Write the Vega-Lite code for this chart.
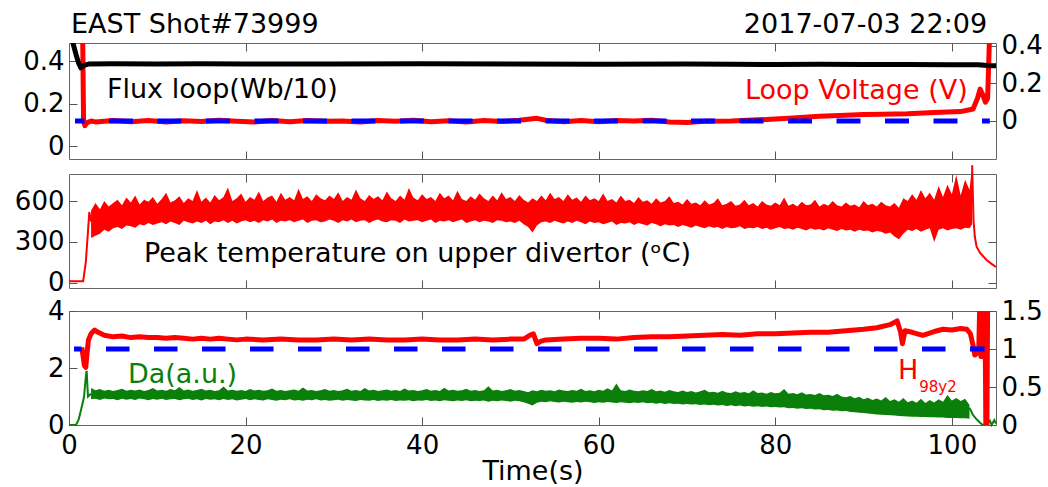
{
"$schema": "https://vega.github.io/schema/vega-lite/v6.json",
"padding": {"left": 13, "top": 10, "right": 5, "bottom": 5},
"datasets": {
"flux": [{"t":0.1,"v":0.53},{"t":0.45,"v":0.485},{"t":0.8,"v":0.43},{"t":1.1,"v":0.39},{"t":1.35,"v":0.368},{"t":1.7,"v":0.38},{"t":2.2,"v":0.386},{"t":5,"v":0.387},{"t":10,"v":0.386},{"t":15,"v":0.387},{"t":20,"v":0.386},{"t":30,"v":0.386},{"t":40,"v":0.387},{"t":50,"v":0.386},{"t":60,"v":0.385},{"t":70,"v":0.386},{"t":75,"v":0.385},{"t":80,"v":0.384},{"t":85,"v":0.385},{"t":90,"v":0.384},{"t":95,"v":0.384},{"t":100,"v":0.383},{"t":103,"v":0.383},{"t":104.3,"v":0.378},{"t":105,"v":0.378}],
"volt": [{"t":1.3,"v":0.5},{"t":1.55,"v":0.45},{"t":1.65,"v":0.0},{"t":1.8,"v":-0.025},{"t":2.0,"v":-0.01},{"t":2.5,"v":0.0},{"t":3,"v":-0.005},{"t":5,"v":0.003},{"t":7,"v":-0.004},{"t":9,"v":0.002},{"t":11,"v":-0.006},{"t":13,"v":0.001},{"t":15,"v":-0.003},{"t":17,"v":0.004},{"t":19,"v":-0.002},{"t":21,"v":-0.006},{"t":23,"v":0.002},{"t":25,"v":-0.004},{"t":27,"v":0.003},{"t":29,"v":-0.002},{"t":31,"v":0.0},{"t":33,"v":-0.005},{"t":35,"v":0.003},{"t":37,"v":-0.001},{"t":39,"v":0.004},{"t":41,"v":-0.004},{"t":43,"v":0.001},{"t":45,"v":-0.006},{"t":47,"v":0.002},{"t":49,"v":-0.003},{"t":51,"v":0.004},{"t":53,"v":0.014},{"t":54,"v":0.004},{"t":56,"v":-0.004},{"t":58,"v":0.002},{"t":60,"v":-0.004},{"t":62,"v":0.003},{"t":64,"v":0.0},{"t":66,"v":0.004},{"t":68,"v":-0.005},{"t":70,"v":-0.008},{"t":72,"v":-0.002},{"t":75,"v":0.0},{"t":78,"v":0.006},{"t":80,"v":0.01},{"t":82,"v":0.016},{"t":85,"v":0.025},{"t":88,"v":0.03},{"t":90,"v":0.035},{"t":92,"v":0.036},{"t":95,"v":0.038},{"t":98,"v":0.045},{"t":101,"v":0.05},{"t":102.4,"v":0.064},{"t":102.9,"v":0.12},{"t":103.2,"v":0.17},{"t":103.5,"v":0.14},{"t":103.8,"v":0.1},{"t":104.05,"v":0.12},{"t":104.3,"v":0.5}],
"tband": [{"t":2.5,"lo":330,"hi":530},{"t":3.0,"lo":345,"hi":585},{"t":3.5,"lo":360,"hi":540},{"t":4.0,"lo":390,"hi":600},{"t":4.5,"lo":375,"hi":560},{"t":5.0,"lo":400,"hi":585},{"t":5.5,"lo":410,"hi":610},{"t":6.0,"lo":395,"hi":570},{"t":6.5,"lo":420,"hi":625},{"t":7.0,"lo":415,"hi":590},{"t":7.5,"lo":405,"hi":640},{"t":8.0,"lo":430,"hi":575},{"t":8.5,"lo":420,"hi":610},{"t":9.0,"lo":440,"hi":595},{"t":9.5,"lo":425,"hi":630},{"t":10.0,"lo":435,"hi":580},{"t":10.5,"lo":445,"hi":615},{"t":11.0,"lo":430,"hi":660},{"t":11.5,"lo":450,"hi":590},{"t":12.0,"lo":440,"hi":605},{"t":12.5,"lo":425,"hi":635},{"t":13.0,"lo":455,"hi":585},{"t":13.5,"lo":445,"hi":620},{"t":14.0,"lo":435,"hi":600},{"t":14.5,"lo":450,"hi":680},{"t":15.0,"lo":440,"hi":595},{"t":15.5,"lo":455,"hi":625},{"t":16.0,"lo":430,"hi":590},{"t":16.5,"lo":450,"hi":645},{"t":17.0,"lo":445,"hi":605},{"t":17.5,"lo":460,"hi":630},{"t":18.0,"lo":440,"hi":700},{"t":18.5,"lo":455,"hi":600},{"t":19.0,"lo":435,"hi":620},{"t":19.5,"lo":450,"hi":655},{"t":20.0,"lo":460,"hi":595},{"t":20.5,"lo":445,"hi":630},{"t":21.0,"lo":455,"hi":610},{"t":21.5,"lo":440,"hi":670},{"t":22.0,"lo":460,"hi":600},{"t":22.5,"lo":450,"hi":625},{"t":23.0,"lo":465,"hi":640},{"t":23.5,"lo":440,"hi":595},{"t":24.0,"lo":455,"hi":660},{"t":24.5,"lo":450,"hi":610},{"t":25.0,"lo":460,"hi":630},{"t":25.5,"lo":445,"hi":605},{"t":26.0,"lo":455,"hi":690},{"t":26.5,"lo":465,"hi":615},{"t":27.0,"lo":440,"hi":635},{"t":27.5,"lo":455,"hi":600},{"t":28.0,"lo":460,"hi":650},{"t":28.5,"lo":445,"hi":620},{"t":29.0,"lo":450,"hi":605},{"t":29.5,"lo":465,"hi":640},{"t":30.0,"lo":455,"hi":615},{"t":30.5,"lo":440,"hi":665},{"t":31.0,"lo":460,"hi":600},{"t":31.5,"lo":450,"hi":630},{"t":32.0,"lo":465,"hi":610},{"t":32.5,"lo":445,"hi":685},{"t":33.0,"lo":455,"hi":620},{"t":33.5,"lo":460,"hi":600},{"t":34.0,"lo":440,"hi":645},{"t":34.5,"lo":455,"hi":615},{"t":35.0,"lo":465,"hi":635},{"t":35.5,"lo":450,"hi":605},{"t":36.0,"lo":445,"hi":670},{"t":36.5,"lo":460,"hi":620},{"t":37.0,"lo":455,"hi":600},{"t":37.5,"lo":440,"hi":640},{"t":38.0,"lo":465,"hi":610},{"t":38.5,"lo":450,"hi":695},{"t":39.0,"lo":455,"hi":625},{"t":39.5,"lo":460,"hi":605},{"t":40.0,"lo":445,"hi":650},{"t":40.5,"lo":455,"hi":615},{"t":41.0,"lo":465,"hi":630},{"t":41.5,"lo":440,"hi":600},{"t":42.0,"lo":455,"hi":660},{"t":42.5,"lo":450,"hi":620},{"t":43.0,"lo":460,"hi":640},{"t":43.5,"lo":445,"hi":605},{"t":44.0,"lo":455,"hi":675},{"t":44.5,"lo":465,"hi":615},{"t":45.0,"lo":440,"hi":600},{"t":45.5,"lo":450,"hi":635},{"t":46.0,"lo":460,"hi":610},{"t":46.5,"lo":445,"hi":655},{"t":47.0,"lo":455,"hi":620},{"t":47.5,"lo":450,"hi":600},{"t":48.0,"lo":440,"hi":640},{"t":48.5,"lo":460,"hi":605},{"t":49.0,"lo":455,"hi":665},{"t":49.5,"lo":445,"hi":615},{"t":50.0,"lo":450,"hi":630},{"t":50.5,"lo":440,"hi":600},{"t":51.0,"lo":455,"hi":645},{"t":51.5,"lo":430,"hi":610},{"t":52.0,"lo":410,"hi":590},{"t":52.5,"lo":370,"hi":620},{"t":53.0,"lo":420,"hi":600},{"t":53.5,"lo":445,"hi":640},{"t":54.0,"lo":450,"hi":605},{"t":54.5,"lo":440,"hi":660},{"t":55.0,"lo":455,"hi":615},{"t":55.5,"lo":445,"hi":630},{"t":56.0,"lo":435,"hi":600},{"t":56.5,"lo":450,"hi":650},{"t":57.0,"lo":440,"hi":610},{"t":57.5,"lo":455,"hi":625},{"t":58.0,"lo":445,"hi":595},{"t":58.5,"lo":430,"hi":640},{"t":59.0,"lo":450,"hi":605},{"t":59.5,"lo":440,"hi":620},{"t":60.0,"lo":445,"hi":600},{"t":60.5,"lo":430,"hi":655},{"t":61.0,"lo":440,"hi":600},{"t":61.5,"lo":450,"hi":615},{"t":62.0,"lo":425,"hi":590},{"t":62.5,"lo":440,"hi":640},{"t":63.0,"lo":435,"hi":600},{"t":63.5,"lo":445,"hi":610},{"t":64.0,"lo":425,"hi":585},{"t":64.5,"lo":440,"hi":630},{"t":65.0,"lo":430,"hi":595},{"t":65.5,"lo":420,"hi":605},{"t":66.0,"lo":440,"hi":580},{"t":66.5,"lo":430,"hi":620},{"t":67.0,"lo":415,"hi":590},{"t":67.5,"lo":430,"hi":600},{"t":68.0,"lo":420,"hi":635},{"t":68.5,"lo":425,"hi":585},{"t":69.0,"lo":410,"hi":595},{"t":69.5,"lo":425,"hi":575},{"t":70.0,"lo":415,"hi":615},{"t":70.5,"lo":405,"hi":580},{"t":71.0,"lo":420,"hi":590},{"t":71.5,"lo":410,"hi":570},{"t":72.0,"lo":400,"hi":605},{"t":72.5,"lo":415,"hi":575},{"t":73.0,"lo":405,"hi":585},{"t":73.5,"lo":410,"hi":620},{"t":74.0,"lo":395,"hi":570},{"t":74.5,"lo":410,"hi":580},{"t":75.0,"lo":400,"hi":600},{"t":75.5,"lo":405,"hi":565},{"t":76.0,"lo":415,"hi":575},{"t":76.5,"lo":395,"hi":610},{"t":77.0,"lo":405,"hi":570},{"t":77.5,"lo":400,"hi":585},{"t":78.0,"lo":410,"hi":560},{"t":78.5,"lo":395,"hi":600},{"t":79.0,"lo":405,"hi":575},{"t":79.5,"lo":390,"hi":565},{"t":80.0,"lo":400,"hi":590},{"t":80.5,"lo":410,"hi":570},{"t":81.0,"lo":395,"hi":625},{"t":81.5,"lo":400,"hi":565},{"t":82.0,"lo":390,"hi":580},{"t":82.5,"lo":405,"hi":560},{"t":83.0,"lo":395,"hi":595},{"t":83.5,"lo":385,"hi":570},{"t":84.0,"lo":400,"hi":575},{"t":84.5,"lo":390,"hi":610},{"t":85.0,"lo":395,"hi":560},{"t":85.5,"lo":385,"hi":580},{"t":86.0,"lo":400,"hi":565},{"t":86.5,"lo":390,"hi":600},{"t":87.0,"lo":380,"hi":570},{"t":87.5,"lo":395,"hi":560},{"t":88.0,"lo":385,"hi":590},{"t":88.5,"lo":390,"hi":565},{"t":89.0,"lo":375,"hi":575},{"t":89.5,"lo":390,"hi":555},{"t":90.0,"lo":380,"hi":600},{"t":90.5,"lo":385,"hi":570},{"t":91.0,"lo":370,"hi":580},{"t":91.5,"lo":380,"hi":560},{"t":92.0,"lo":375,"hi":595},{"t":92.5,"lo":360,"hi":570},{"t":93.0,"lo":370,"hi":560},{"t":93.5,"lo":340,"hi":585},{"t":94.0,"lo":320,"hi":550},{"t":94.5,"lo":360,"hi":620},{"t":95.0,"lo":390,"hi":600},{"t":95.5,"lo":380,"hi":650},{"t":96.0,"lo":395,"hi":610},{"t":96.5,"lo":375,"hi":680},{"t":97.0,"lo":390,"hi":620},{"t":97.5,"lo":400,"hi":660},{"t":98.0,"lo":300,"hi":610},{"t":98.5,"lo":390,"hi":710},{"t":99.0,"lo":400,"hi":630},{"t":99.5,"lo":385,"hi":720},{"t":100.0,"lo":395,"hi":650},{"t":100.5,"lo":400,"hi":790},{"t":101.0,"lo":390,"hi":640},{"t":101.5,"lo":405,"hi":755},{"t":102.0,"lo":400,"hi":680},{"t":102.3,"lo":430,"hi":862}],
"tline": [{"s":"a","t":0,"v":12},{"s":"a","t":1.6,"v":12},{"s":"a","t":1.9,"v":150},{"s":"a","t":2.1,"v":330},{"s":"a","t":2.3,"v":520},{"s":"a","t":2.5,"v":450},{"s":"b","t":102.3,"v":862},{"s":"b","t":102.45,"v":465},{"s":"b","t":102.6,"v":340},{"s":"b","t":102.8,"v":265},{"s":"b","t":103.2,"v":220},{"s":"b","t":103.9,"v":170},{"s":"b","t":104.5,"v":140},{"s":"b","t":105,"v":117}],
"daband": [{"t":2.5,"lo":0.9,"hi":1.3},{"t":3.0,"lo":0.92,"hi":1.22},{"t":3.5,"lo":0.88,"hi":1.26},{"t":4.0,"lo":0.93,"hi":1.2},{"t":4.5,"lo":0.9,"hi":1.24},{"t":5.0,"lo":0.91,"hi":1.19},{"t":5.5,"lo":0.87,"hi":1.23},{"t":6.0,"lo":0.92,"hi":1.27},{"t":6.5,"lo":0.89,"hi":1.2},{"t":7.0,"lo":0.91,"hi":1.24},{"t":7.5,"lo":0.88,"hi":1.21},{"t":8.0,"lo":0.93,"hi":1.25},{"t":8.5,"lo":0.9,"hi":1.19},{"t":9.0,"lo":0.87,"hi":1.23},{"t":9.5,"lo":0.91,"hi":1.3},{"t":10.0,"lo":0.89,"hi":1.21},{"t":10.5,"lo":0.92,"hi":1.24},{"t":11.0,"lo":0.88,"hi":1.2},{"t":11.5,"lo":0.9,"hi":1.26},{"t":12.0,"lo":0.91,"hi":1.22},{"t":12.5,"lo":0.87,"hi":1.33},{"t":13.0,"lo":0.9,"hi":1.21},{"t":13.5,"lo":0.92,"hi":1.25},{"t":14.0,"lo":0.88,"hi":1.2},{"t":14.5,"lo":0.9,"hi":1.23},{"t":15.0,"lo":0.86,"hi":1.27},{"t":15.5,"lo":0.91,"hi":1.21},{"t":16.0,"lo":0.89,"hi":1.24},{"t":16.5,"lo":0.9,"hi":1.19},{"t":17.0,"lo":0.87,"hi":1.22},{"t":17.5,"lo":0.91,"hi":1.35},{"t":18.0,"lo":0.88,"hi":1.21},{"t":18.5,"lo":0.9,"hi":1.24},{"t":19.0,"lo":0.86,"hi":1.2},{"t":19.5,"lo":0.89,"hi":1.23},{"t":20.0,"lo":0.91,"hi":1.19},{"t":20.5,"lo":0.87,"hi":1.26},{"t":21.0,"lo":0.9,"hi":1.21},{"t":21.5,"lo":0.88,"hi":1.24},{"t":22.0,"lo":0.86,"hi":1.2},{"t":22.5,"lo":0.9,"hi":1.22},{"t":23.0,"lo":0.88,"hi":1.28},{"t":23.5,"lo":0.85,"hi":1.2},{"t":24.0,"lo":0.89,"hi":1.23},{"t":24.5,"lo":0.87,"hi":1.19},{"t":25.0,"lo":0.9,"hi":1.22},{"t":25.5,"lo":0.86,"hi":1.25},{"t":26.0,"lo":0.88,"hi":1.2},{"t":26.5,"lo":0.85,"hi":1.32},{"t":27.0,"lo":0.89,"hi":1.21},{"t":27.5,"lo":0.87,"hi":1.23},{"t":28.0,"lo":0.9,"hi":1.19},{"t":28.5,"lo":0.86,"hi":1.22},{"t":29.0,"lo":0.88,"hi":1.26},{"t":29.5,"lo":0.85,"hi":1.2},{"t":30.0,"lo":0.87,"hi":1.23},{"t":30.5,"lo":0.89,"hi":1.19},{"t":31.0,"lo":0.85,"hi":1.22},{"t":31.5,"lo":0.88,"hi":1.27},{"t":32.0,"lo":0.86,"hi":1.2},{"t":32.5,"lo":0.84,"hi":1.23},{"t":33.0,"lo":0.88,"hi":1.19},{"t":33.5,"lo":0.86,"hi":1.3},{"t":34.0,"lo":0.85,"hi":1.21},{"t":34.5,"lo":0.88,"hi":1.24},{"t":35.0,"lo":0.84,"hi":1.19},{"t":35.5,"lo":0.87,"hi":1.22},{"t":36.0,"lo":0.85,"hi":1.25},{"t":36.5,"lo":0.88,"hi":1.2},{"t":37.0,"lo":0.84,"hi":1.23},{"t":37.5,"lo":0.86,"hi":1.19},{"t":38.0,"lo":0.85,"hi":1.28},{"t":38.5,"lo":0.87,"hi":1.21},{"t":39.0,"lo":0.83,"hi":1.23},{"t":39.5,"lo":0.86,"hi":1.19},{"t":40.0,"lo":0.85,"hi":1.22},{"t":40.5,"lo":0.88,"hi":1.26},{"t":41.0,"lo":0.84,"hi":1.2},{"t":41.5,"lo":0.86,"hi":1.23},{"t":42.0,"lo":0.83,"hi":1.19},{"t":42.5,"lo":0.87,"hi":1.31},{"t":43.0,"lo":0.85,"hi":1.21},{"t":43.5,"lo":0.83,"hi":1.24},{"t":44.0,"lo":0.86,"hi":1.2},{"t":44.5,"lo":0.84,"hi":1.22},{"t":45.0,"lo":0.87,"hi":1.27},{"t":45.5,"lo":0.83,"hi":1.2},{"t":46.0,"lo":0.85,"hi":1.23},{"t":46.5,"lo":0.84,"hi":1.19},{"t":47.0,"lo":0.86,"hi":1.22},{"t":47.5,"lo":0.82,"hi":1.36},{"t":48.0,"lo":0.85,"hi":1.21},{"t":48.5,"lo":0.83,"hi":1.24},{"t":49.0,"lo":0.86,"hi":1.19},{"t":49.5,"lo":0.84,"hi":1.22},{"t":50.0,"lo":0.82,"hi":1.26},{"t":50.5,"lo":0.85,"hi":1.2},{"t":51.0,"lo":0.83,"hi":1.23},{"t":51.5,"lo":0.8,"hi":1.19},{"t":52.0,"lo":0.75,"hi":1.15},{"t":52.5,"lo":0.68,"hi":1.22},{"t":53.0,"lo":0.78,"hi":1.18},{"t":53.5,"lo":0.82,"hi":1.24},{"t":54.0,"lo":0.8,"hi":1.2},{"t":54.5,"lo":0.83,"hi":1.22},{"t":55.0,"lo":0.81,"hi":1.18},{"t":55.5,"lo":0.79,"hi":1.25},{"t":56.0,"lo":0.82,"hi":1.21},{"t":56.5,"lo":0.8,"hi":1.19},{"t":57.0,"lo":0.78,"hi":1.23},{"t":57.5,"lo":0.81,"hi":1.2},{"t":58.0,"lo":0.79,"hi":1.27},{"t":58.5,"lo":0.82,"hi":1.19},{"t":59.0,"lo":0.8,"hi":1.22},{"t":59.5,"lo":0.77,"hi":1.18},{"t":60.0,"lo":0.8,"hi":1.24},{"t":60.5,"lo":0.78,"hi":1.2},{"t":61.0,"lo":0.81,"hi":1.29},{"t":61.5,"lo":0.79,"hi":1.21},{"t":62.0,"lo":0.77,"hi":1.46},{"t":62.5,"lo":0.8,"hi":1.22},{"t":63.0,"lo":0.78,"hi":1.19},{"t":63.5,"lo":0.76,"hi":1.25},{"t":64.0,"lo":0.79,"hi":1.2},{"t":64.5,"lo":0.77,"hi":1.18},{"t":65.0,"lo":0.8,"hi":1.22},{"t":65.5,"lo":0.76,"hi":1.19},{"t":66.0,"lo":0.78,"hi":1.26},{"t":66.5,"lo":0.75,"hi":1.18},{"t":67.0,"lo":0.77,"hi":1.21},{"t":67.5,"lo":0.74,"hi":1.17},{"t":68.0,"lo":0.76,"hi":1.23},{"t":68.5,"lo":0.74,"hi":1.18},{"t":69.0,"lo":0.75,"hi":1.16},{"t":69.5,"lo":0.72,"hi":1.21},{"t":70.0,"lo":0.74,"hi":1.16},{"t":70.5,"lo":0.72,"hi":1.19},{"t":71.0,"lo":0.73,"hi":1.14},{"t":71.5,"lo":0.7,"hi":1.18},{"t":72.0,"lo":0.72,"hi":1.24},{"t":72.5,"lo":0.69,"hi":1.15},{"t":73.0,"lo":0.71,"hi":1.17},{"t":73.5,"lo":0.68,"hi":1.13},{"t":74.0,"lo":0.7,"hi":1.2},{"t":74.5,"lo":0.67,"hi":1.14},{"t":75.0,"lo":0.69,"hi":1.12},{"t":75.5,"lo":0.66,"hi":1.18},{"t":76.0,"lo":0.68,"hi":1.13},{"t":76.5,"lo":0.65,"hi":1.16},{"t":77.0,"lo":0.67,"hi":1.11},{"t":77.5,"lo":0.64,"hi":1.22},{"t":78.0,"lo":0.66,"hi":1.12},{"t":78.5,"lo":0.63,"hi":1.14},{"t":79.0,"lo":0.65,"hi":1.1},{"t":79.5,"lo":0.62,"hi":1.16},{"t":80.0,"lo":0.63,"hi":1.11},{"t":80.5,"lo":0.61,"hi":1.13},{"t":81.0,"lo":0.62,"hi":1.26},{"t":81.5,"lo":0.59,"hi":1.1},{"t":82.0,"lo":0.6,"hi":1.12},{"t":82.5,"lo":0.57,"hi":1.08},{"t":83.0,"lo":0.59,"hi":1.15},{"t":83.5,"lo":0.56,"hi":1.07},{"t":84.0,"lo":0.57,"hi":1.09},{"t":84.5,"lo":0.54,"hi":1.05},{"t":85.0,"lo":0.55,"hi":1.12},{"t":85.5,"lo":0.52,"hi":1.04},{"t":86.0,"lo":0.53,"hi":1.06},{"t":86.5,"lo":0.5,"hi":1.02},{"t":87.0,"lo":0.51,"hi":1.1},{"t":87.5,"lo":0.48,"hi":1.0},{"t":88.0,"lo":0.49,"hi":0.97},{"t":88.5,"lo":0.46,"hi":1.02},{"t":89.0,"lo":0.45,"hi":0.94},{"t":89.5,"lo":0.43,"hi":0.99},{"t":90.0,"lo":0.42,"hi":0.9},{"t":90.5,"lo":0.4,"hi":0.96},{"t":91.0,"lo":0.39,"hi":0.88},{"t":91.5,"lo":0.37,"hi":0.93},{"t":92.0,"lo":0.36,"hi":0.86},{"t":92.5,"lo":0.35,"hi":0.98},{"t":93.0,"lo":0.34,"hi":0.84},{"t":93.5,"lo":0.33,"hi":0.9},{"t":94.0,"lo":0.32,"hi":0.82},{"t":94.5,"lo":0.31,"hi":0.95},{"t":95.0,"lo":0.3,"hi":0.8},{"t":95.5,"lo":0.29,"hi":0.86},{"t":96.0,"lo":0.29,"hi":0.78},{"t":96.5,"lo":0.28,"hi":0.92},{"t":97.0,"lo":0.28,"hi":0.77},{"t":97.5,"lo":0.27,"hi":0.88},{"t":98.0,"lo":0.27,"hi":0.79},{"t":98.5,"lo":0.26,"hi":0.9},{"t":99.0,"lo":0.26,"hi":0.82},{"t":99.5,"lo":0.25,"hi":1.05},{"t":100.0,"lo":0.25,"hi":0.86},{"t":100.5,"lo":0.25,"hi":0.95},{"t":101.0,"lo":0.24,"hi":0.84},{"t":101.5,"lo":0.24,"hi":0.92},{"t":102.0,"lo":0.22,"hi":0.7}],
"daline": [{"s":"a","t":0,"v":0},{"s":"a","t":0.8,"v":0},{"s":"a","t":1.1,"v":0.2},{"s":"a","t":1.36,"v":0.53},{"s":"a","t":1.7,"v":0.98},{"s":"a","t":1.9,"v":1.68},{"s":"a","t":2.0,"v":1.9},{"s":"a","t":2.15,"v":1.0},{"s":"a","t":2.5,"v":1.1},{"s":"b","t":102.0,"v":0.6},{"s":"b","t":102.4,"v":0.35},{"s":"b","t":102.8,"v":0.2},{"s":"b","t":103.2,"v":0.08},{"s":"b","t":103.5,"v":0.0},{"s":"b","t":104.0,"v":0.03},{"s":"b","t":104.3,"v":0.15},{"s":"b","t":104.5,"v":0.0},{"s":"b","t":104.8,"v":0.17},{"s":"b","t":105,"v":0.05}],
"h98": [{"t":1.45,"v":1.02},{"t":1.6,"v":0.9},{"t":1.75,"v":0.78},{"t":1.9,"v":0.76},{"t":2.05,"v":0.95},{"t":2.2,"v":1.12},{"t":2.5,"v":1.2},{"t":2.9,"v":1.25},{"t":3.3,"v":1.22},{"t":4,"v":1.18},{"t":5,"v":1.16},{"t":6,"v":1.17},{"t":7,"v":1.15},{"t":8,"v":1.16},{"t":9,"v":1.15},{"t":10,"v":1.15},{"t":11,"v":1.14},{"t":12,"v":1.15},{"t":13,"v":1.14},{"t":14,"v":1.13},{"t":15,"v":1.14},{"t":16,"v":1.13},{"t":17,"v":1.14},{"t":18,"v":1.13},{"t":19,"v":1.12},{"t":20,"v":1.13},{"t":22,"v":1.12},{"t":24,"v":1.13},{"t":26,"v":1.12},{"t":28,"v":1.12},{"t":30,"v":1.13},{"t":32,"v":1.12},{"t":34,"v":1.13},{"t":36,"v":1.12},{"t":38,"v":1.12},{"t":40,"v":1.13},{"t":42,"v":1.12},{"t":44,"v":1.12},{"t":46,"v":1.13},{"t":48,"v":1.12},{"t":50,"v":1.13},{"t":51.5,"v":1.13},{"t":52.2,"v":1.18},{"t":52.6,"v":1.2},{"t":53.0,"v":1.07},{"t":53.4,"v":1.1},{"t":54,"v":1.12},{"t":56,"v":1.13},{"t":58,"v":1.14},{"t":60,"v":1.14},{"t":62,"v":1.13},{"t":64,"v":1.15},{"t":66,"v":1.16},{"t":68,"v":1.16},{"t":70,"v":1.17},{"t":72,"v":1.18},{"t":74,"v":1.19},{"t":76,"v":1.18},{"t":78,"v":1.2},{"t":80,"v":1.2},{"t":82,"v":1.21},{"t":84,"v":1.22},{"t":86,"v":1.22},{"t":88,"v":1.24},{"t":90,"v":1.26},{"t":91.5,"v":1.28},{"t":93,"v":1.32},{"t":93.8,"v":1.37},{"t":94.2,"v":1.22},{"t":94.4,"v":1.07},{"t":94.7,"v":1.24},{"t":95.5,"v":1.22},{"t":96.7,"v":1.18},{"t":98,"v":1.23},{"t":99,"v":1.26},{"t":100,"v":1.25},{"t":101,"v":1.27},{"t":101.7,"v":1.26},{"t":102.1,"v":1.2},{"t":102.4,"v":1.05},{"t":102.6,"v":0.92},{"t":102.9,"v":0.95},{"t":103.05,"v":1.0},{"t":103.15,"v":1.55},{"t":103.3,"v":0.9},{"t":103.45,"v":1.55},{"t":103.6,"v":0.95},{"t":103.75,"v":1.55},{"t":103.85,"v":0.0},{"t":103.97,"v":0.0},{"t":104.05,"v":1.55}]
},
"config": {
  "font": "DejaVu Sans",
  "view": {"stroke": "#666666", "strokeWidth": 1},
  "axis": {"grid": false, "domain": false, "tickColor": "#555555", "tickWidth": 1, "labelColor": "#000000", "labelFontSize": 26, "labelFont": "DejaVu Sans", "titleFont": "DejaVu Sans", "titleFontSize": 27, "titleFontWeight": "normal", "titleColor": "#000000", "labelFlush": false},
  "text": {"font": "DejaVu Sans", "fontSize": 27}
},
"spacing": 0,
"vconcat": [
  {"width": 927, "height": 116,
   "resolve": {"scale": {"x": "independent", "y": "independent"}},
   "layer": [
    {"layer": [
      {"data": {"name": "volt"}, "mark": {"type": "line", "color": "#ff0000", "strokeWidth": 5, "clip": true, "strokeJoin": "round"},
       "encoding": {
        "x": {"field": "t", "type": "quantitative", "scale": {"domain": [0, 105], "nice": false, "zero": false}, "axis": {"orient": "top", "labels": false, "title": null, "values": [20, 40, 60, 80, 100], "offset": -8, "tickSize": 8}},
        "y": {"field": "v", "type": "quantitative", "scale": {"domain": [-0.203, 0.416], "nice": false, "zero": false}, "axis": {"orient": "right", "title": null, "values": [0, 0.2, 0.4], "labelExpr": "'' + datum.value", "offset": -8, "tickSize": 8, "labelPadding": 5}}}},
      {"data": {"values": [{}]}, "mark": {"type": "rule", "color": "#0000ff", "strokeWidth": 5, "strokeDash": [24, 24.5], "strokeDashOffset": 14.5},
       "encoding": {
        "x": {"datum": 0.68, "type": "quantitative", "scale": {"domain": [0, 105], "nice": false, "zero": false}, "axis": {"orient": "top", "labels": false, "title": null, "values": [20, 40, 60, 80, 100], "offset": -8, "tickSize": 8}},
        "x2": {"datum": 104.3},
        "y": {"datum": 0, "type": "quantitative", "scale": {"domain": [-0.203, 0.416], "nice": false, "zero": false}, "axis": {"orient": "right", "title": null, "values": [0, 0.2, 0.4], "labelExpr": "'' + datum.value", "offset": -8, "tickSize": 8, "labelPadding": 5}}}},
      {"data": {"values": [{}]}, "mark": {"type": "text", "text": "Loop Voltage (V)", "color": "#ff0000", "align": "right", "baseline": "alphabetic", "fontSize": 27},
       "encoding": {
        "x": {"datum": 101.8, "type": "quantitative", "scale": {"domain": [0, 105], "nice": false, "zero": false}, "axis": {"orient": "top", "labels": false, "title": null, "values": [20, 40, 60, 80, 100], "offset": -8, "tickSize": 8}},
        "y": {"datum": 0.117, "type": "quantitative", "scale": {"domain": [-0.203, 0.416], "nice": false, "zero": false}, "axis": {"orient": "right", "title": null, "values": [0, 0.2, 0.4], "labelExpr": "'' + datum.value", "offset": -8, "tickSize": 8, "labelPadding": 5}}}},
      {"data": {"values": [{}]}, "mark": {"type": "text", "text": "2017-07-03 22:09", "color": "#000000", "align": "right", "baseline": "alphabetic", "fontSize": 27},
       "encoding": {
        "x": {"datum": 104.0, "type": "quantitative", "scale": {"domain": [0, 105], "nice": false, "zero": false}, "axis": {"orient": "top", "labels": false, "title": null, "values": [20, 40, 60, 80, 100], "offset": -8, "tickSize": 8}},
        "y": {"datum": 0.469, "type": "quantitative", "scale": {"domain": [-0.203, 0.416], "nice": false, "zero": false}, "axis": {"orient": "right", "title": null, "values": [0, 0.2, 0.4], "labelExpr": "'' + datum.value", "offset": -8, "tickSize": 8, "labelPadding": 5}}}}
    ]},
    {"layer": [
      {"data": {"name": "flux"}, "mark": {"type": "line", "color": "#000000", "strokeWidth": 5, "clip": true, "strokeJoin": "round"},
       "encoding": {
        "x": {"field": "t", "type": "quantitative", "scale": {"domain": [0, 105], "nice": false, "zero": false}, "axis": {"orient": "bottom", "labels": false, "title": null, "values": [20, 40, 60, 80, 100], "offset": -8, "tickSize": 8}},
        "y": {"field": "v", "type": "quantitative", "scale": {"domain": [-0.061, 0.485], "nice": false, "zero": false}, "axis": {"orient": "left", "title": null, "values": [0, 0.2, 0.4], "labelExpr": "'' + datum.value", "offset": -8, "tickSize": 8, "labelPadding": 5}}}},
      {"data": {"values": [{}]}, "mark": {"type": "text", "text": "Flux loop(Wb/10)", "color": "#000000", "align": "left", "baseline": "alphabetic", "fontSize": 27},
       "encoding": {
        "x": {"datum": 4.3, "type": "quantitative", "scale": {"domain": [0, 105], "nice": false, "zero": false}, "axis": {"orient": "bottom", "labels": false, "title": null, "values": [20, 40, 60, 80, 100], "offset": -8, "tickSize": 8}},
        "y": {"datum": 0.226, "type": "quantitative", "scale": {"domain": [-0.061, 0.485], "nice": false, "zero": false}, "axis": {"orient": "left", "title": null, "values": [0, 0.2, 0.4], "labelExpr": "'' + datum.value", "offset": -8, "tickSize": 8, "labelPadding": 5}}}},
      {"data": {"values": [{}]}, "mark": {"type": "text", "text": "EAST Shot#73999", "color": "#000000", "align": "left", "baseline": "alphabetic", "fontSize": 27},
       "encoding": {
        "x": {"datum": 0.23, "type": "quantitative", "scale": {"domain": [0, 105], "nice": false, "zero": false}, "axis": {"orient": "bottom", "labels": false, "title": null, "values": [20, 40, 60, 80, 100], "offset": -8, "tickSize": 8}},
        "y": {"datum": 0.532, "type": "quantitative", "scale": {"domain": [-0.061, 0.485], "nice": false, "zero": false}, "axis": {"orient": "left", "title": null, "values": [0, 0.2, 0.4], "labelExpr": "'' + datum.value", "offset": -8, "tickSize": 8, "labelPadding": 5}}}}
    ]}
   ]},
  {"width": 927, "height": 114,
   "resolve": {"scale": {"x": "independent", "y": "independent"}},
   "layer": [
    {"layer": [
      {"data": {"name": "tband"}, "mark": {"type": "area", "color": "#ff0000", "opacity": 1},
       "encoding": {
        "x": {"field": "t", "type": "quantitative", "scale": {"domain": [0, 105], "nice": false, "zero": false}, "axis": {"orient": "bottom", "labels": false, "title": null, "values": [20, 40, 60, 80, 100], "offset": -8, "tickSize": 8}},
        "y": {"field": "lo", "type": "quantitative", "scale": {"domain": [-37, 798], "nice": false, "zero": false}, "axis": {"orient": "left", "title": null, "values": [0, 300, 600], "labelExpr": "'' + datum.value", "offset": -8, "tickSize": 8, "labelPadding": 5}},
        "y2": {"field": "hi"}}},
      {"data": {"name": "tline"}, "mark": {"type": "line", "color": "#ff0000", "strokeWidth": 2},
       "encoding": {
        "x": {"field": "t", "type": "quantitative", "scale": {"domain": [0, 105], "nice": false, "zero": false}, "axis": {"orient": "bottom", "labels": false, "title": null, "values": [20, 40, 60, 80, 100], "offset": -8, "tickSize": 8}},
        "y": {"field": "v", "type": "quantitative", "scale": {"domain": [-37, 798], "nice": false, "zero": false}, "axis": {"orient": "left", "title": null, "values": [0, 300, 600], "labelExpr": "'' + datum.value", "offset": -8, "tickSize": 8, "labelPadding": 5}},
        "detail": {"field": "s"}}}
    ]},
    {"layer": [
      {"data": {"values": [{}]}, "mark": {"type": "text", "text": "Peak temperature on upper divertor (ᵒC)", "color": "#000000", "align": "left", "baseline": "alphabetic", "fontSize": 27},
       "encoding": {
        "x": {"datum": 8.5, "type": "quantitative", "scale": {"domain": [0, 105], "nice": false, "zero": false}, "axis": {"orient": "top", "labels": false, "title": null, "values": [20, 40, 60, 80, 100], "offset": -8, "tickSize": 8}},
        "y": {"datum": 154, "type": "quantitative", "scale": {"domain": [-37, 798], "nice": false, "zero": false}, "axis": {"orient": "right", "labels": false, "title": null, "values": [0, 300, 600], "offset": -8, "tickSize": 8}}}}
    ]}
   ]},
 {"width": 927, "height": 114,
  "resolve": {"scale": {"x": "independent", "y": "independent"}},
  "layer": [
   {"layer": [
     {"data": {"name": "daband"}, "mark": {"type": "area", "color": "#0a800a", "opacity": 1},
      "encoding": {
       "x": {"field": "t", "type": "quantitative", "scale": {"domain": [0, 105], "nice": false, "zero": false}, "axis": {"orient": "bottom", "title": "Time(s)", "values": [0, 20, 40, 60, 80, 100], "offset": -8, "tickSize": 8, "labelPadding": 7, "titlePadding": 0}},
       "y": {"field": "lo", "type": "quantitative", "scale": {"domain": [0, 4], "nice": false, "zero": false}, "axis": {"orient": "left", "title": null, "values": [0, 2, 4], "labelExpr": "'' + datum.value", "offset": -8, "tickSize": 8, "labelPadding": 5}},
       "y2": {"field": "hi"}}},
     {"data": {"name": "daline"}, "mark": {"type": "line", "color": "#0a800a", "strokeWidth": 2},
      "encoding": {
       "x": {"field": "t", "type": "quantitative", "scale": {"domain": [0, 105], "nice": false, "zero": false}, "axis": {"orient": "bottom", "title": "Time(s)", "values": [0, 20, 40, 60, 80, 100], "offset": -8, "tickSize": 8, "labelPadding": 7, "titlePadding": 0}},
       "y": {"field": "v", "type": "quantitative", "scale": {"domain": [0, 4], "nice": false, "zero": false}, "axis": {"orient": "left", "title": null, "values": [0, 2, 4], "labelExpr": "'' + datum.value", "offset": -8, "tickSize": 8, "labelPadding": 5}},
       "detail": {"field": "s"}}},
     {"data": {"values": [{}]}, "mark": {"type": "text", "text": "Da(a.u.)", "color": "#0a800a", "align": "left", "baseline": "alphabetic", "fontSize": 27},
      "encoding": {
       "x": {"datum": 6.67, "type": "quantitative", "scale": {"domain": [0, 105], "nice": false, "zero": false}, "axis": {"orient": "bottom", "title": "Time(s)", "values": [0, 20, 40, 60, 80, 100], "offset": -8, "tickSize": 8, "labelPadding": 7, "titlePadding": 0}},
       "y": {"datum": 1.48, "type": "quantitative", "scale": {"domain": [0, 4], "nice": false, "zero": false}, "axis": {"orient": "left", "title": null, "values": [0, 2, 4], "labelExpr": "'' + datum.value", "offset": -8, "tickSize": 8, "labelPadding": 5}}}}
   ]},
   {"layer": [
     {"data": {"name": "h98"}, "mark": {"type": "line", "color": "#ff0000", "strokeWidth": 5, "clip": true, "strokeJoin": "round"},
      "encoding": {
       "x": {"field": "t", "type": "quantitative", "scale": {"domain": [0, 105], "nice": false, "zero": false}, "axis": {"orient": "top", "labels": false, "title": null, "values": [20, 40, 60, 80, 100], "offset": -8, "tickSize": 8}},
       "y": {"field": "v", "type": "quantitative", "scale": {"domain": [0, 1.5], "nice": false, "zero": false}, "axis": {"orient": "right", "title": null, "values": [0, 0.5, 1, 1.5], "labelExpr": "'' + datum.value", "offset": -8, "tickSize": 8, "labelPadding": 5}}}},
     {"data": {"values": [{}]}, "mark": {"type": "rule", "color": "#0000ff", "strokeWidth": 5, "strokeDash": [23.5, 24.5], "strokeDashOffset": 16},
      "encoding": {
       "x": {"datum": 0.57, "type": "quantitative", "scale": {"domain": [0, 105], "nice": false, "zero": false}, "axis": {"orient": "top", "labels": false, "title": null, "values": [20, 40, 60, 80, 100], "offset": -8, "tickSize": 8}},
       "x2": {"datum": 103.7},
       "y": {"datum": 1, "type": "quantitative", "scale": {"domain": [0, 1.5], "nice": false, "zero": false}, "axis": {"orient": "right", "title": null, "values": [0, 0.5, 1, 1.5], "labelExpr": "'' + datum.value", "offset": -8, "tickSize": 8, "labelPadding": 5}}}},
     {"data": {"values": [{}]}, "mark": {"type": "text", "text": "H", "color": "#ff0000", "align": "left", "baseline": "alphabetic", "fontSize": 27},
      "encoding": {
       "x": {"datum": 93.9, "type": "quantitative", "scale": {"domain": [0, 105], "nice": false, "zero": false}, "axis": {"orient": "top", "labels": false, "title": null, "values": [20, 40, 60, 80, 100], "offset": -8, "tickSize": 8}},
       "y": {"datum": 0.6, "type": "quantitative", "scale": {"domain": [0, 1.5], "nice": false, "zero": false}, "axis": {"orient": "right", "title": null, "values": [0, 0.5, 1, 1.5], "labelExpr": "'' + datum.value", "offset": -8, "tickSize": 8, "labelPadding": 5}}}},
     {"data": {"values": [{}]}, "mark": {"type": "text", "text": "98y2", "color": "#ff0000", "align": "left", "baseline": "alphabetic", "fontSize": 15},
      "encoding": {
       "x": {"datum": 96.3, "type": "quantitative", "scale": {"domain": [0, 105], "nice": false, "zero": false}, "axis": {"orient": "top", "labels": false, "title": null, "values": [20, 40, 60, 80, 100], "offset": -8, "tickSize": 8}},
       "y": {"datum": 0.44, "type": "quantitative", "scale": {"domain": [0, 1.5], "nice": false, "zero": false}, "axis": {"orient": "right", "title": null, "values": [0, 0.5, 1, 1.5], "labelExpr": "'' + datum.value", "offset": -8, "tickSize": 8, "labelPadding": 5}}}}
   ]}
  ]}
]
}
